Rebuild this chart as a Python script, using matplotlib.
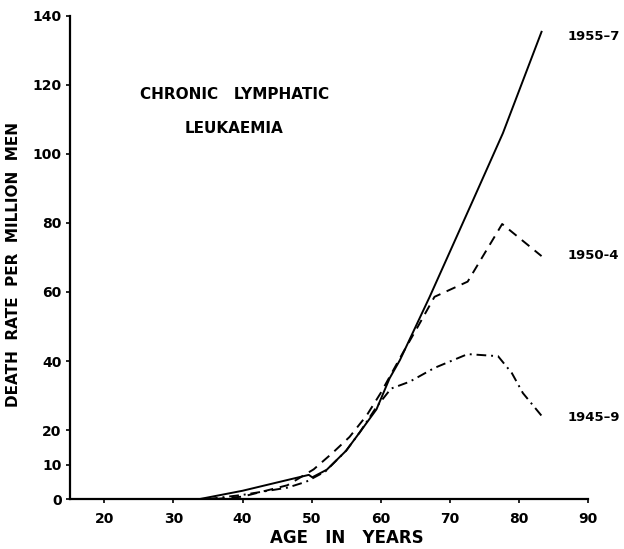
import matplotlib
matplotlib.use("Agg")
import matplotlib.pyplot as plt

# Data
age_1955 = [33.8, 40, 45, 49.6, 50.1, 52.2, 55, 57, 59.4, 61.3, 62.8, 67.1, 73.4, 77.7, 83.3]
rate_1955 = [0, 2.4, 4.8, 7.0, 6.3, 8.5, 14, 19.4, 26, 35, 40.3, 58.6, 86.7, 106, 135.4]

age_1950 = [36, 40, 46.5, 50.3, 53, 55.5, 58, 60, 63.2, 65.4, 67.8, 72.6, 77.6, 83.3]
rate_1950 = [0, 0.7, 4.0, 8.6, 13.3, 18, 24.3, 30.7, 42.3, 50, 58.6, 63, 79.7, 70.4]

age_1945 = [35, 40, 46.5, 49.2, 52, 55, 57, 59.4, 61.5, 64.2, 67.8, 72.6, 77, 79, 80.6, 83.4]
rate_1945 = [0, 1.2, 3.3, 5.0, 8.0, 14, 19.4, 26.7, 32, 34, 38, 42, 41.4, 36.5, 30.7, 23.9]

series_labels = ["1955\u20137", "1950-4", "1945\u20139"]
label_rates = [134, 70.5, 23.5]
x_ticks = [20, 30, 40, 50, 60, 70, 80, 90]
y_ticks = [0, 10, 20, 40, 60, 80, 100, 120, 140]

plt.rcParams['font.family'] = ['DejaVu Sans']

fig = plt.figure(figsize=(6.24, 5.49), dpi=100)
ax = fig.add_axes([0.112, 0.091, 0.830, 0.880])

lw = 1.4
ax.plot(age_1955, rate_1955, color='black', lw=lw, solid_joinstyle='round')
ax.plot(age_1950, rate_1950, color='black', lw=lw, linestyle=(0, (5, 3.5)))
ax.plot(age_1945, rate_1945, color='black', lw=lw, linestyle=(0, (5, 2.5, 1, 2.5)))

ax.set_xlim(15, 90)
ax.set_ylim(0, 140)
ax.set_xticks(x_ticks)
ax.set_yticks(y_ticks)
ax.tick_params(axis='both', direction='out', length=3, width=1.2,
               labelsize=10, pad=3)
ax.tick_params(axis='x', pad=6)
for lab in ax.get_xticklabels() + ax.get_yticklabels():
    lab.set_fontweight('bold')

for s in ['top', 'right']:
    ax.spines[s].set_visible(False)
for s in ['left', 'bottom']:
    ax.spines[s].set_linewidth(1.6)

ax.set_xlabel("AGE   IN   YEARS", fontsize=12, fontweight='bold')
ax.xaxis.set_label_coords(0.535, -0.062)
ax.set_ylabel("DEATH  RATE  PER  MILLION  MEN", fontsize=11, fontweight='bold')
ax.yaxis.set_label_coords(-0.095, 0.485)

ax.text(0.317, 0.838, "CHRONIC   LYMPHATIC", transform=ax.transAxes,
        ha='center', va='center', fontsize=11, fontweight='bold')
ax.text(0.317, 0.768, "LEUKAEMIA", transform=ax.transAxes,
        ha='center', va='center', fontsize=11, fontweight='bold')

# Series labels placed to the right of the line ends
for lab, ly in zip(series_labels, label_rates):
    ax.text(87.1, ly, lab, ha='left', va='center', fontsize=9.5,
            fontweight='bold', clip_on=False)

fig.savefig("out.png", dpi=100)
